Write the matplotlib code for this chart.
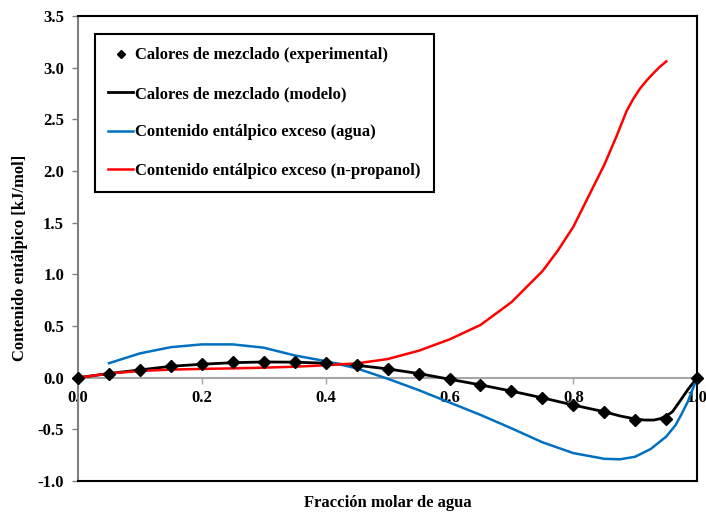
import numpy as np
import matplotlib
matplotlib.use('Agg')
import matplotlib.pyplot as plt
from matplotlib.lines import Line2D

plt.rcParams['font.family'] = ['Liberation Serif', 'DejaVu Serif']
plt.rcParams['font.weight'] = 'bold'

# calores de mezclado medidos
x_exp = [0.0, 0.05, 0.10, 0.15, 0.20, 0.25, 0.30, 0.35, 0.40, 0.45, 0.50,
         0.55, 0.60, 0.65, 0.70, 0.75, 0.80, 0.85, 0.90, 0.95, 1.0]
h_exp = [0.0, 0.04, 0.075, 0.113, 0.13, 0.149, 0.155, 0.152, 0.145, 0.123, 0.084,
         0.039, -0.016, -0.068, -0.129, -0.197, -0.268, -0.335, -0.41, -0.40, 0.0]

# modelo
x_mod = [0.0, 0.05, 0.10, 0.15, 0.20, 0.25, 0.30, 0.35, 0.40, 0.45, 0.50, 0.55,
         0.60, 0.65, 0.70, 0.75, 0.80, 0.85, 0.875, 0.90, 0.915, 0.93, 0.94, 0.95,
         0.96, 0.973, 0.985, 1.0]
h_mod = [0.0, 0.04, 0.075, 0.11, 0.13, 0.145, 0.152, 0.15, 0.14, 0.12, 0.085, 0.04,
         -0.015, -0.07, -0.13, -0.195, -0.265, -0.33, -0.37, -0.40, -0.41, -0.41,
         -0.397, -0.372, -0.33, -0.22, -0.115, 0.0]

# contenido entalpico en exceso del agua
x_agua = [0.05, 0.10, 0.15, 0.20, 0.25, 0.30, 0.35, 0.40, 0.45, 0.50, 0.55, 0.60,
          0.65, 0.70, 0.75, 0.80, 0.85, 0.875, 0.90, 0.925, 0.95, 0.965, 0.975,
          0.985, 1.0]
h_agua = [0.14, 0.235, 0.295, 0.322, 0.322, 0.29, 0.215, 0.16, 0.09, -0.01, -0.12,
          -0.24, -0.36, -0.49, -0.625, -0.73, -0.785, -0.79, -0.765, -0.69, -0.57,
          -0.46, -0.35, -0.23, 0.0]

# contenido entalpico en exceso del n-propanol
x_prop = [0.0, 0.05, 0.10, 0.15, 0.20, 0.25, 0.30, 0.35, 0.40, 0.45, 0.50, 0.55,
          0.60, 0.65, 0.70, 0.75, 0.775, 0.80, 0.825, 0.85, 0.87, 0.878, 0.886,
          0.897, 0.908, 0.919, 0.93, 0.94, 0.95]
h_prop = [0.0, 0.04, 0.065, 0.078, 0.085, 0.09, 0.097, 0.106, 0.12, 0.138, 0.18,
          0.26, 0.37, 0.51, 0.73, 1.03, 1.23, 1.46, 1.76, 2.06, 2.34, 2.46, 2.58,
          2.70, 2.80, 2.88, 2.95, 3.01, 3.06]

fig = plt.figure(figsize=(7.06, 5.15), dpi=100)
ax = fig.add_axes([0.1105, 0.066, 0.877, 0.903])

ax.plot(x_mod, h_mod, color='black', lw=2.0, zorder=3)
ax.plot(x_agua, h_agua, color='#0070C0', lw=1.8, zorder=4)
ax.plot(x_prop, h_prop, color='#FF0000', lw=1.8, zorder=5)
ax.plot(x_exp, h_exp, linestyle='none', marker='D', color='black', ms=6, zorder=6,
        clip_on=False)

ax.set_xlim(0, 1)
ax.set_ylim(-1.0, 3.5)
ax.set_xticks(np.arange(0, 1.01, 0.2))
ax.set_yticks(np.arange(-1.0, 3.51, 0.5))
ax.set_xticklabels(['%.1f' % v for v in np.arange(0, 1.01, 0.2)])
ax.set_yticklabels(['%.1f' % v for v in np.arange(-1.0, 3.51, 0.5)])

# eje x sobre la linea y=0
ax.spines['bottom'].set_position(('data', 0))
ax.spines['bottom'].set_color('#A6A6A6')
ax.spines['bottom'].set_linewidth(1.5)
ax.spines['left'].set_color('#808080')
ax.spines['left'].set_linewidth(1.5)
for s in ['top', 'right']:
    ax.spines[s].set_color('black')
    ax.spines[s].set_linewidth(1.5)
ax.plot([0, 1], [0, 0], transform=ax.transAxes, color='black', lw=1.5, clip_on=False,
        zorder=7)

ax.tick_params(axis='x', colors='#A6A6A6', direction='out', length=4, width=1,
               pad=5, labelsize=12, labelcolor='black')
ax.tick_params(axis='y', colors='#808080', direction='out', length=4, width=1,
               pad=6, labelsize=12, labelcolor='black')
for lab in ax.get_xticklabels() + ax.get_yticklabels():
    lab.set_fontweight('bold')

fig.text(0.5487, 0.023, 'Fracción molar de agua', ha='center', va='center',
         fontsize=12, fontweight='bold')
fig.text(0.029, 0.5, 'Contenido entálpico [kJ/mol]', ha='center', va='center',
         rotation=90, fontsize=12, fontweight='bold')

handles = [Line2D([], [], linestyle='none', marker='D', color='black', ms=4),
           Line2D([], [], color='black', lw=2.0),
           Line2D([], [], color='#0070C0', lw=1.8),
           Line2D([], [], color='#FF0000', lw=1.8)]
labels = ['Calores de mezclado (experimental)',
          'Calores de mezclado (modelo)',
          'Contenido entálpico exceso (agua)',
          'Contenido entálpico exceso (n-propanol)']
leg = ax.legend(handles, labels, loc='upper left', bbox_to_anchor=(0.0275, 0.961),
                borderaxespad=0, frameon=True, fancybox=False, edgecolor='black',
                framealpha=1, handlelength=1.5, handletextpad=0.12, labelspacing=1.35,
                borderpad=0.8, prop={'size': 12, 'weight': 'bold'})
leg.get_frame().set_linewidth(1.5)

plt.savefig('out.png', dpi=100)
